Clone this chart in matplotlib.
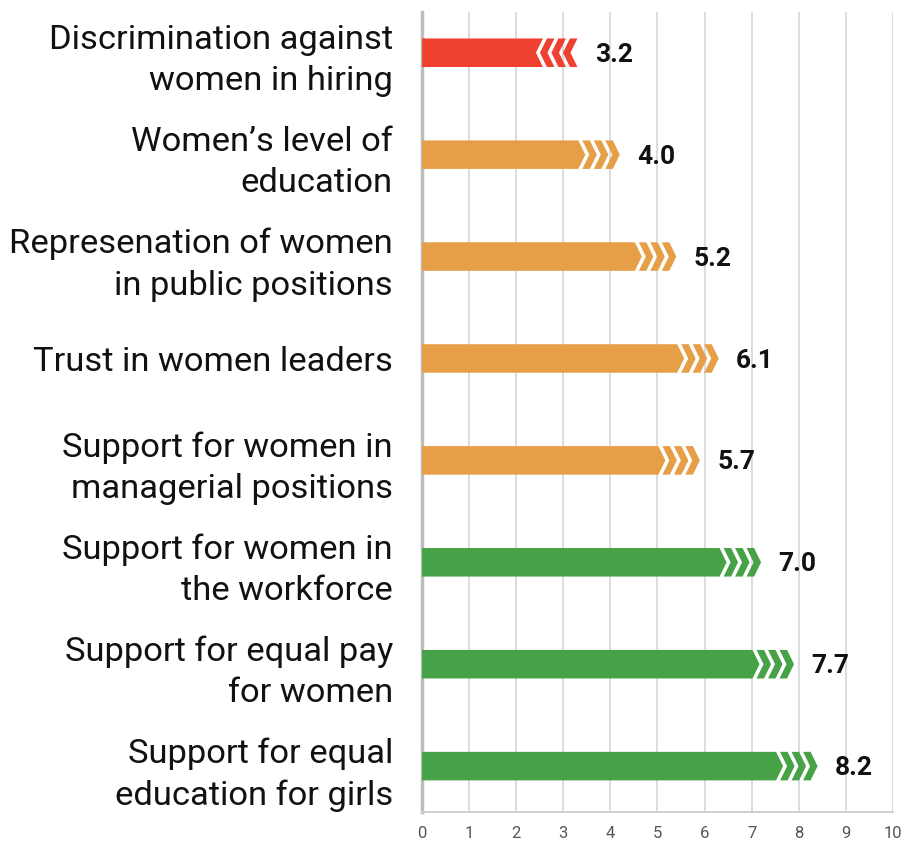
import matplotlib.pyplot as plt
from matplotlib.patches import Polygon

# DATA

labels = [
    "Discrimination against\nwomen in hiring",
    "Women\u2019s level of\neducation",
    "Represenation of women\nin public positions",
    "Trust in women leaders",
    "Support for women in\nmanagerial positions",
    "Support for women in\nthe workforce",
    "Support for equal pay\nfor women",
    "Support for equal\neducation for girls",
]

scores = [3.2, 4.0, 5.2, 6.1, 5.7, 7.0, 7.7, 8.2]

# +1 = improving (right chevrons), -1 = worsening (left chevrons)
direction = [-1, 1, 1, 1, 1, 1, 1, 1]

bar_colors = [
    "#ee4130",
    "#e69f47", "#e69f47", "#e69f47", "#e69f47",
    "#47a147", "#47a147", "#47a147",
]

x_ticks = list(range(0, 11))


def main():

    plt.rcParams["font.family"] = ["Roboto", "DejaVu Sans"]

    fig = plt.figure(figsize=(9.09, 8.43), dpi=100)

    ax = fig.add_axes([0.4643, 0.0368, 0.518, 0.949])

    ax.set_xlim(0, 10)
    ax.set_ylim(7.45, -0.4)

    # chevron geometry in pixels, converted to data units
    px = 10 / 471.0
    t = 7.5 * px
    g = 4 * px
    d = 7 * px
    h = 0.28 / 2

    for i, (v, s, c) in enumerate(zip(scores, direction, bar_colors)):

        top = i - h
        bot = i + h

        if s > 0:

            tip = v + 0.2
            x0 = tip - 3 * (t + g) - d

            ax.add_patch(Polygon(
                [(0, top), (x0, top), (x0 + d, i), (x0, bot), (0, bot)],
                closed=True, facecolor=c, edgecolor="none", zorder=3
            ))

            for k in range(3):

                a = x0 + g + k * (t + g)

                ax.add_patch(Polygon(
                    [(a, top), (a + t, top), (a + t + d, i),
                     (a + t, bot), (a, bot), (a + d, i)],
                    closed=True, facecolor=c, edgecolor="none", zorder=3
                ))

        else:

            tip = v + 0.1
            x0 = tip - 3 * (t + g)

            ax.add_patch(Polygon(
                [(0, top), (x0, top), (x0 - d, i), (x0, bot), (0, bot)],
                closed=True, facecolor=c, edgecolor="none", zorder=3
            ))

            for k in range(3):

                a = x0 + g + k * (t + g)

                ax.add_patch(Polygon(
                    [(a, top), (a + t, top), (a + t - d, i),
                     (a + t, bot), (a, bot), (a - d, i)],
                    closed=True, facecolor=c, edgecolor="none", zorder=3
                ))

        ax.text(
            tip + 0.37, i + 0.02,
            f"{v:.1f}",
            ha="left", va="center",
            fontsize=19, fontweight="bold",
            color="#111111"
        )

    # AXES STYLE

    ax.set_yticks(range(len(labels)))
    ax.set_yticklabels(labels, fontsize=24.8, color="#111111", linespacing=1.37)

    ax.set_xticks(x_ticks)
    ax.set_xticklabels([str(x) for x in x_ticks], fontsize=12, color="#555555")

    ax.tick_params(axis="y", length=0, pad=21)
    ax.tick_params(axis="x", length=0, pad=10)

    ax.grid(axis="x", color="#d9d9d9", linewidth=1.3, zorder=0)
    ax.set_axisbelow(True)

    for side in ["top", "right"]:
        ax.spines[side].set_visible(False)

    ax.spines["left"].set_color("#bdbdbd")
    ax.spines["left"].set_linewidth(2.5)
    ax.spines["bottom"].set_color("#cccccc")
    ax.spines["bottom"].set_linewidth(1.3)

    fig.savefig("out.png", dpi=100)


if __name__ == "__main__":

    main()
